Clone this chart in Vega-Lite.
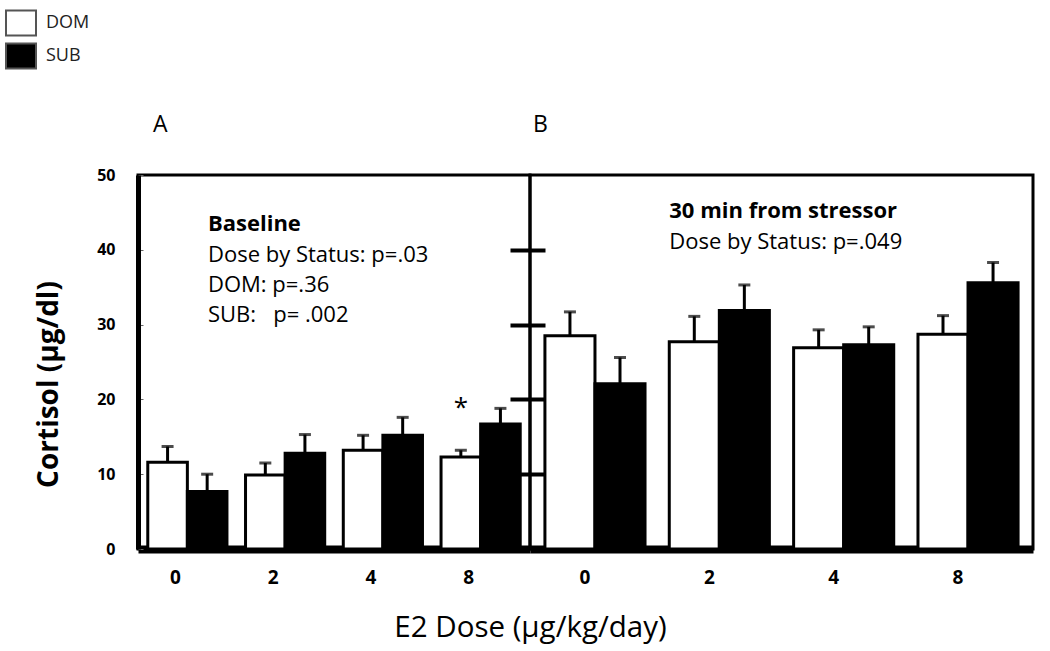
{
  "$schema": "https://vega.github.io/schema/vega-lite/v6.json",
  "padding": {"left": 5, "top": 7, "right": 5, "bottom": 5},
  "autosize": {"type": "pad"},
  "bounds": "flush",
  "spacing": 0,
  "resolve": {"scale": {"x": "independent", "xOffset": "independent", "y": "independent"}},
  "config": {
    "font": "Open Sans",
    "view": {"stroke": "black", "strokeWidth": 3},
    "axis": {"labelColor": "black", "titleColor": "black", "domainColor": "black", "grid": false, "labelFont": "Open Sans", "titleFont": "Open Sans"},
    "text": {"font": "Open Sans", "color": "black"}
  },
  "datasets": {
    "bars": [
      {"panel": "A", "dose": "0", "status": "DOM", "value": 11.6, "upper": 13.7},
      {"panel": "A", "dose": "0", "status": "SUB", "value": 7.7, "upper": 10.0},
      {"panel": "A", "dose": "2", "status": "DOM", "value": 9.9, "upper": 11.5},
      {"panel": "A", "dose": "2", "status": "SUB", "value": 12.8, "upper": 15.3},
      {"panel": "A", "dose": "4", "status": "DOM", "value": 13.2, "upper": 15.2},
      {"panel": "A", "dose": "4", "status": "SUB", "value": 15.2, "upper": 17.6},
      {"panel": "A", "dose": "8", "status": "DOM", "value": 12.3, "upper": 13.2},
      {"panel": "A", "dose": "8", "status": "SUB", "value": 16.7, "upper": 18.8},
      {"panel": "B", "dose": "0", "status": "DOM", "value": 28.5, "upper": 31.7},
      {"panel": "B", "dose": "0", "status": "SUB", "value": 22.1, "upper": 25.6},
      {"panel": "B", "dose": "2", "status": "DOM", "value": 27.7, "upper": 31.1},
      {"panel": "B", "dose": "2", "status": "SUB", "value": 31.9, "upper": 35.3},
      {"panel": "B", "dose": "4", "status": "DOM", "value": 26.9, "upper": 29.3},
      {"panel": "B", "dose": "4", "status": "SUB", "value": 27.3, "upper": 29.7},
      {"panel": "B", "dose": "8", "status": "DOM", "value": 28.7, "upper": 31.2},
      {"panel": "B", "dose": "8", "status": "SUB", "value": 35.6, "upper": 38.3}
    ],
    "notes": [
      {"panel": "A", "role": "heading", "label": "Baseline", "dose": "0", "ny": 42.5},
      {"panel": "A", "role": "stat", "label": "Dose by Status: p=.03", "dose": "0", "ny": 38.4},
      {"panel": "A", "role": "stat", "label": "DOM: p=.36", "dose": "0", "ny": 34.3},
      {"panel": "A", "role": "stat", "label": "SUB:\u00a0\u00a0\u00a0p= .002", "dose": "0", "ny": 30.3},
      {"panel": "B", "role": "heading", "label": "30 min from stressor", "dose": "2", "ny": 44.3},
      {"panel": "B", "role": "stat", "label": "Dose by Status: p=.049", "dose": "2", "ny": 40.1}
    ],
    "stars": [
      {"panel": "A", "dose": "8", "status": "DOM", "value": 17.8, "label": "*"}
    ]
  },
  "hconcat": [
    {
      "width": 392,
      "height": 374,
      "title": {"text": "A", "anchor": "start", "frame": "group", "dx": 15, "offset": 30, "fontSize": 23, "fontWeight": "normal", "font": "Open Sans", "color": "black"},
      "layer": [
        {
          "data": {"name": "bars"},
          "transform": [{"filter": "datum.panel === 'A'"}],
          "mark": {"type": "bar", "stroke": "black", "strokeWidth": 3},
          "encoding": {
            "x": {"field": "dose", "type": "ordinal", "scale": {"domain": ["0", "2", "4", "8"], "paddingInner": 0.19, "paddingOuter": 0.1},
              "axis": {"title": "E2 Dose (µg/kg/day)", "titleX": 392, "titleY": 87, "titleBaseline": "alphabetic", "titleAlign": "center", "titleFontSize": 29.5, "titleFontWeight": "normal", "labelAngle": 0, "labelFontWeight": "bold", "labelFontSize": 19, "labelPadding": 19, "labelOffset": -12, "ticks": false, "domainWidth": 8}},
            "xOffset": {"field": "status", "type": "nominal", "scale": {"domain": ["DOM", "SUB"], "paddingInner": 0, "paddingOuter": 0}},
            "y": {"field": "value", "type": "quantitative", "scale": {"domain": [0, 50], "nice": false},
              "axis": {"values": [0, 10, 20, 30, 40, 50], "tickSize": -5, "tickWidth": 1, "tickColor": "#666", "domainWidth": 5, "labelFontWeight": "bold", "labelFontSize": 16, "labelPadding": 28, "title": "Cortisol (µg/dl)", "titleFontSize": 28, "titleFontWeight": "bold", "titlePadding": 33, "titleY": 209}},
            "fill": {"field": "status", "type": "nominal", "scale": {"domain": ["DOM", "SUB"], "range": ["white", "black"]},
              "legend": {"orient": "none", "legendX": -133, "legendY": -168, "title": null, "symbolType": "M-1,-0.833H1V0.833H-1Z", "symbolSize": 900, "symbolStrokeColor": "#555", "symbolStrokeWidth": 2, "labelFontSize": 18, "labelFont": "Open Sans", "labelColor": "#222", "labelOffset": 9, "rowPadding": -5, "padding": 0}}
          }
        },
        {
          "data": {"name": "bars"},
          "transform": [{"filter": "datum.panel === 'A'"}],
          "mark": {"type": "rule", "strokeWidth": 3, "color": "black"},
          "encoding": {
            "x": {"field": "dose", "type": "ordinal"},
            "xOffset": {"field": "status", "type": "nominal"},
            "y": {"field": "value", "type": "quantitative"},
            "y2": {"field": "upper"}
          }
        },
        {
          "data": {"name": "bars"},
          "transform": [{"filter": "datum.panel === 'A'"}],
          "mark": {"type": "tick", "size": 12, "thickness": 3, "color": "black"},
          "encoding": {
            "x": {"field": "dose", "type": "ordinal"},
            "xOffset": {"field": "status", "type": "nominal"},
            "y": {"field": "upper", "type": "quantitative"}
          }
        },
        {
          "data": {"name": "stars"},
          "mark": {"type": "text", "fontSize": 26, "baseline": "alphabetic", "align": "center"},
          "encoding": {
            "x": {"field": "dose", "type": "ordinal"},
            "xOffset": {"field": "status", "type": "nominal"},
            "y": {"field": "value", "type": "quantitative"},
            "text": {"field": "label"}
          }
        },
        {
          "data": {"name": "notes"},
          "transform": [{"filter": "datum.panel === 'A' && datum.role === 'heading'"}],
          "mark": {"type": "text", "fontSize": 22, "fontWeight": "bold", "align": "left", "baseline": "alphabetic"},
          "encoding": {
            "x": {"field": "dose", "type": "ordinal", "bandPosition": 0.76},
            "y": {"field": "ny", "type": "quantitative"},
            "text": {"field": "label"}
          }
        },
        {
          "data": {"name": "notes"},
          "transform": [{"filter": "datum.panel === 'A' && datum.role === 'stat'"}],
          "mark": {"type": "text", "fontSize": 22, "fontWeight": "normal", "align": "left", "baseline": "alphabetic"},
          "encoding": {
            "x": {"field": "dose", "type": "ordinal", "bandPosition": 0.76},
            "y": {"field": "ny", "type": "quantitative"},
            "text": {"field": "label"}
          }
        }
      ]
    },
    {
      "width": 503,
      "height": 374,
      "title": {"text": "B", "anchor": "start", "frame": "group", "dx": 3, "offset": 38, "fontSize": 23, "fontWeight": "normal", "font": "Open Sans", "color": "black"},
      "layer": [
        {
          "data": {"name": "bars"},
          "transform": [{"filter": "datum.panel === 'B'"}],
          "mark": {"type": "bar", "stroke": "black", "strokeWidth": 3},
          "encoding": {
            "x": {"field": "dose", "type": "ordinal", "scale": {"domain": ["0", "2", "4", "8"], "paddingInner": 0.195, "paddingOuter": 0.12},
              "axis": {"title": null, "labelAngle": 0, "labelFontWeight": "bold", "labelFontSize": 19, "labelPadding": 19, "labelOffset": -10, "ticks": false, "domainWidth": 8}},
            "xOffset": {"field": "status", "type": "nominal", "scale": {"domain": ["DOM", "SUB"], "paddingInner": 0, "paddingOuter": 0}},
            "y": {"field": "value", "type": "quantitative", "scale": {"domain": [0, 50], "nice": false},
              "axis": {"orient": "left", "offset": -15, "values": [10, 20, 30, 40], "tickSize": 35, "tickWidth": 4, "tickColor": "black", "labels": false, "domain": false, "title": null}},
            "fill": {"field": "status", "type": "nominal", "scale": {"domain": ["DOM", "SUB"], "range": ["white", "black"]}, "legend": null}
          }
        },
        {
          "data": {"name": "bars"},
          "transform": [{"filter": "datum.panel === 'B'"}],
          "mark": {"type": "rule", "strokeWidth": 3, "color": "black"},
          "encoding": {
            "x": {"field": "dose", "type": "ordinal"},
            "xOffset": {"field": "status", "type": "nominal"},
            "y": {"field": "value", "type": "quantitative"},
            "y2": {"field": "upper"}
          }
        },
        {
          "data": {"name": "bars"},
          "transform": [{"filter": "datum.panel === 'B'"}],
          "mark": {"type": "tick", "size": 12, "thickness": 3, "color": "black"},
          "encoding": {
            "x": {"field": "dose", "type": "ordinal"},
            "xOffset": {"field": "status", "type": "nominal"},
            "y": {"field": "upper", "type": "quantitative"}
          }
        },
        {
          "data": {"name": "notes"},
          "transform": [{"filter": "datum.panel === 'B' && datum.role === 'heading'"}],
          "mark": {"type": "text", "fontSize": 22, "fontWeight": "bold", "align": "left", "baseline": "alphabetic"},
          "encoding": {
            "x": {"field": "dose", "type": "ordinal", "bandPosition": 0},
            "y": {"field": "ny", "type": "quantitative"},
            "text": {"field": "label"}
          }
        },
        {
          "data": {"name": "notes"},
          "transform": [{"filter": "datum.panel === 'B' && datum.role === 'stat'"}],
          "mark": {"type": "text", "fontSize": 22, "fontWeight": "normal", "align": "left", "baseline": "alphabetic"},
          "encoding": {
            "x": {"field": "dose", "type": "ordinal", "bandPosition": 0},
            "y": {"field": "ny", "type": "quantitative"},
            "text": {"field": "label"}
          }
        }
      ]
    }
  ]
}
